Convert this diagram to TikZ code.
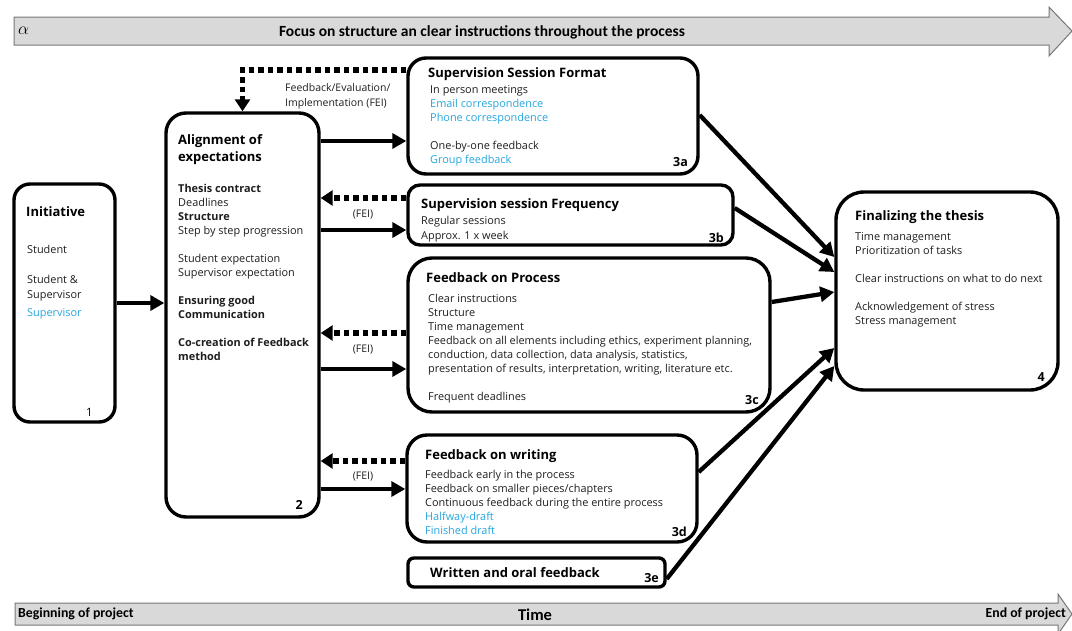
\documentclass[tikz,border=0pt]{standalone}
\usepackage{fontspec}
\setmainfont{Open Sans}
\newfontfamily\calfont{Carlito}
\usetikzlibrary{arrows.meta}
\definecolor{cblue}{RGB}{38,166,222}
\definecolor{bandfill}{RGB}{217,217,217}
\definecolor{bandline}{RGB}{120,120,120}
\definecolor{bodytext}{RGB}{30,30,30}
\begin{document}
\begin{tikzpicture}[x=1pt,y=-1pt,
  box/.style={draw, line width=3.4pt, rectangle, inner sep=0pt},
  txt/.style={anchor=north west, inner sep=0pt, align=left, text=bodytext, font=\fontsize{10.9}{14}\selectfont},
  ttl/.style={anchor=north west, inner sep=0pt, align=left, font=\bfseries\fontsize{13}{17}\selectfont},
  num/.style={anchor=base east, inner sep=0pt, font=\bfseries\fontsize{12.5}{14}\selectfont},
  arr/.style={line width=4.3pt, -{Triangle[length=14pt,width=15pt]}},
  darr/.style={line width=5.5pt, dash pattern=on 5.5pt off 4pt, -{Triangle[length=12pt,width=15pt]}},
  fei/.style={inner sep=0pt, text=bodytext, font=\fontsize{10.5}{15}\selectfont},
  band/.style={fill=bandfill, draw=bandline, line width=1pt},
  bandtxt/.style={inner sep=0pt, font=\calfont\bfseries\fontsize{13.8}{15}\selectfont}]
\useasboundingbox (0,0) rectangle (1072,630);

% time bands
\path[band] (14,17) -- (1049,17) -- (1049,7) -- (1072,31) -- (1049,56) -- (1049,45) -- (14,45) -- cycle;
\node[inner sep=0pt, anchor=west, font=\fontsize{17}{19}\selectfont] (alpha) at (18,31) {$\alpha$};
\node[bandtxt, font=\calfont\bfseries\fontsize{15.5}{17}\selectfont] (focus) at (482,32) {Focus on structure an clear instructions throughout the process};
\path[band] (15,603) -- (1058,603) -- (1058,594) -- (1072,614) -- (1058,634) -- (1058,625) -- (15,625) -- cycle;
\node[bandtxt, anchor=west] (begin) at (18,614) {Beginning of project};
\node[bandtxt, font=\calfont\bfseries\fontsize{16.5}{18}\selectfont] (time) at (535,614.5) {Time};
\node[bandtxt, anchor=east] (end) at (1066,614) {End of project};

% boxes
\node[box, rounded corners=16pt, minimum width=101pt, minimum height=238pt] (b1) at (64.5,303) {};
\node[box, rounded corners=20pt, minimum width=153pt, minimum height=404pt] (b2) at (242.5,315) {};
\node[box, rounded corners=18pt, minimum width=290pt, minimum height=116pt] (b3a) at (553,116) {};
\node[box, rounded corners=12pt, minimum width=325pt, minimum height=60pt] (b3b) at (570.5,215) {};
\node[box, rounded corners=24pt, minimum width=362pt, minimum height=154pt] (b3c) at (589,335) {};
\node[box, rounded corners=20pt, minimum width=290pt, minimum height=107pt] (b3d) at (552,488.5) {};
\node[box, rounded corners=6pt, minimum width=257pt, minimum height=29pt] (b3e) at (536.5,572.5) {};
\node[box, rounded corners=28pt, minimum width=222pt, minimum height=198pt] (b4) at (947,291) {};

% box 1
\node[ttl] (t1) at (26,206) {Initiative};
\node[txt, font=\fontsize{10.9}{15}\selectfont] (c1) at (27,245) {Student\\[15pt]Student \&\\Supervisor\\[3pt]\textcolor{cblue}{Supervisor}};
\node[num, font=\fontsize{11.5}{14}\selectfont] (n1) at (93,416) {1};

% box 2
\node[ttl] (t2) at (178,134) {Alignment of\\expectations};
\node[txt] (c2) at (178,184) {\textbf{Thesis contract}\\Deadlines\\\textbf{Structure}\\Step by step progression\\[14pt]Student expectation\\Supervisor expectation\\[14pt]\textbf{Ensuring good}\\\textbf{Communication}\\[14pt]\textbf{Co-creation of Feedback}\\\textbf{method}};
\node[num] (n2) at (303,509) {2};

% box 3a
\node[ttl] (t3a) at (428,67) {Supervision Session Format};
\node[txt] (c3a) at (430,85) {In person meetings\\\textcolor{cblue}{Email correspondence}\\\textcolor{cblue}{Phone correspondence}\\[14pt]One-by-one feedback\\\textcolor{cblue}{Group feedback}};
\node[num] (n3a) at (688,166) {3a};

% box 3b
\node[ttl] (t3b) at (421,198) {Supervision session Frequency};
\node[txt, font=\fontsize{10.9}{15}\selectfont] (c3b) at (421,216) {Regular sessions\\Approx. 1 x week};
\node[num] (n3b) at (724,242) {3b};

% box 3c
\node[ttl] (t3c) at (426,272) {Feedback on Process};
\node[txt] (c3c) at (428,294) {Clear instructions\\Structure\\Time management\\Feedback on all elements including ethics, experiment planning,\\conduction, data collection, data analysis, statistics,\\presentation of results, interpretation, writing, literature etc.\\[14pt]Frequent deadlines};
\node[num] (n3c) at (759,404) {3c};

% box 3d
\node[ttl] (t3d) at (425,449) {Feedback on writing};
\node[txt] (c3d) at (425,470) {Feedback early in the process\\Feedback on smaller pieces/chapters\\Continuous feedback during the entire process\\\textcolor{cblue}{Halfway-draft}\\\textcolor{cblue}{Finished draft}};
\node[num] (n3d) at (687,536) {3d};

% box 3e
\node[ttl, anchor=west] (t3e) at (430,573) {Written and oral feedback};
\node[num] (n3e) at (659,582) {3e};

% box 4
\node[ttl] (t4) at (855,210) {Finalizing the thesis};
\node[txt] (c4) at (855,232) {Time management\\Prioritization of tasks\\[14pt]Clear instructions on what to do next\\[14pt]Acknowledgement of stress\\Stress management};
\node[num] (n4) at (1045,381) {4};

% FEI labels
\node[fei, anchor=north west, align=left] (feitop) at (285,83) {Feedback/Evaluation/\\Implementation (FEI)};
\node[fei] (fei3b) at (363,215) {(FEI)};
\node[fei] (fei3c) at (363,350) {(FEI)};
\node[fei] (fei3d) at (363,477) {(FEI)};

% forward arrows
\draw[arr] (b1.east) -- (b1.east -| b2.west);
\draw[arr] (b2.east |- 0,141) -- (b3a.west |- 0,141);
\draw[arr] (b2.east |- 0,230) -- (b3b.west |- 0,230);
\draw[arr] (b2.east |- 0,369) -- (b3c.west |- 0,369);
\draw[arr] (b2.east |- 0,489) -- (b3d.west |- 0,489);

% feedback (dotted) arrows
\draw[darr] (b3a.west |- 0,70) -| (b2.north);
\draw[darr] (b3b.west |- 0,198) -- (b2.east |- 0,198);
\draw[darr] (b3c.west |- 0,333) -- (b2.east |- 0,333);
\draw[darr] (b3d.west |- 0,461) -- (b2.east |- 0,461);

% arrows to box 4
\draw[arr] (b3a.east |- 0,115) -- (b4.west |- 0,257);
\draw[arr] (b3b.east |- 0,208) -- (b4.west |- 0,272);
\draw[arr] (b3c.east |- 0,302) -- (b4.west |- 0,292);
\draw[arr] (b3d.east |- 0,472) -- (b4.west |- 0,348);
\draw[arr] (b3e.east |- 0,579) -- (b4.west |- 0,366);
\end{tikzpicture}
\end{document}
